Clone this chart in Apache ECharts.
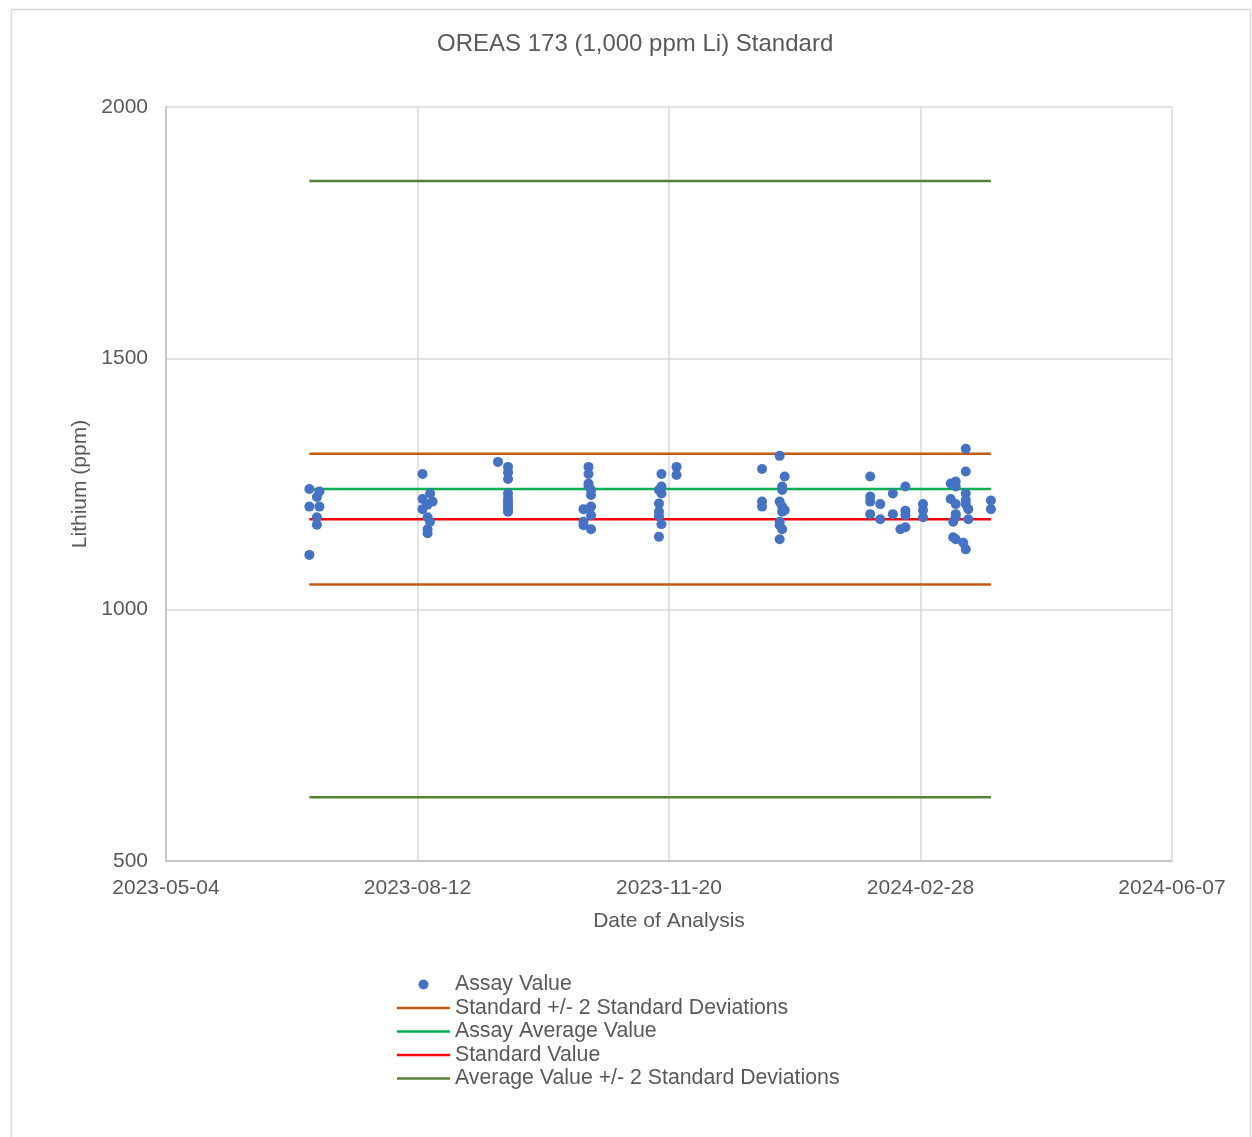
<!DOCTYPE html>
<html>
<head>
<meta charset="utf-8">
<title>OREAS 173 (1,000 ppm Li) Standard</title>
<script src="https://cdn.jsdelivr.net/npm/echarts@6/dist/echarts.min.js"></script>
<style>
html, body { margin: 0; padding: 0; background: #fff; }
#oreasChart { width: 1252px; height: 1137px; }
</style>
</head>
<body>
<div id="oreasChart"></div>
<script>
// assay results (date of analysis, Li ppm)
var assayDates = [
    '2023-06-30','2023-06-30','2023-06-30','2023-07-04','2023-07-04','2023-07-03','2023-07-03','2023-07-03',
    '2023-08-14','2023-08-14','2023-08-14','2023-08-16','2023-08-16','2023-08-16','2023-08-16','2023-08-17','2023-08-17','2023-08-18',
    '2023-09-13','2023-09-17','2023-09-17','2023-09-17','2023-09-17','2023-09-17','2023-09-17','2023-09-17','2023-09-17','2023-09-17',
    '2023-10-19','2023-10-19','2023-10-19','2023-10-19','2023-10-20','2023-10-20','2023-10-20','2023-10-17','2023-10-20','2023-10-17','2023-10-17','2023-10-20',
    '2023-11-17','2023-11-17','2023-11-16','2023-11-17','2023-11-16','2023-11-16','2023-11-16','2023-11-17','2023-11-16','2023-11-23','2023-11-23',
    '2023-12-27','2023-12-27','2023-12-27','2024-01-03','2024-01-05','2024-01-04','2024-01-04','2024-01-03','2024-01-04','2024-01-05','2024-01-04','2024-01-03','2024-01-03','2024-01-04','2024-01-03',
    '2024-02-08','2024-02-08','2024-02-08','2024-02-08','2024-02-12','2024-02-12','2024-02-17','2024-02-17','2024-02-22','2024-02-22','2024-02-22','2024-02-22','2024-02-20','2024-02-29','2024-02-29','2024-02-29',
    '2024-03-17','2024-03-17','2024-03-11','2024-03-13','2024-03-13','2024-03-17','2024-03-11','2024-03-17','2024-03-13','2024-03-17','2024-03-18','2024-03-13','2024-03-13','2024-03-18','2024-03-12','2024-03-12','2024-03-13','2024-03-16','2024-03-17',
    '2024-03-27','2024-03-27'
];
var assayValues = [
    1240, 1205, 1109, 1235, 1205, 1224, 1184, 1169,
    1270, 1220, 1200, 1209, 1184, 1160, 1152, 1231, 1175, 1215,
    1294, 1284, 1273, 1260, 1231, 1221, 1214, 1208, 1201, 1195,
    1284, 1270, 1251, 1246, 1238, 1228, 1205, 1200, 1188, 1175, 1168, 1160,
    1270, 1245, 1238, 1231, 1211, 1195, 1186, 1170, 1145, 1284, 1268,
    1280, 1215, 1205, 1306, 1265, 1245, 1238, 1215, 1205, 1198, 1195, 1175, 1168, 1160, 1140,
    1265, 1225, 1215, 1190, 1210, 1180, 1231, 1190, 1245, 1197, 1188, 1164, 1160, 1210, 1198, 1184,
    1320, 1275, 1251, 1255, 1245, 1231, 1220, 1218, 1210, 1210, 1200, 1190, 1184, 1180, 1175, 1144, 1140, 1133, 1120,
    1217, 1200
];

// reference lines run from the first to the last analysis
var lineDates = ['2023-06-30', '2024-03-27'];
var standardValue = 1180;
var standardMinus2SD = 1050;
var standardPlus2SD = 1310;
var averageValue = 1240;
var averageMinus2SD = 627;
var averagePlus2SD = 1853;

// x axis: 2023-05-04 .. 2024-06-07, tick every 100 days
var xStartDate = '2023-05-04';
var xSpanDays = 400;
var xStepDays = 100;

var DAY = 86400000;

function dayOf(s) {
    return (Date.parse(s) - Date.parse(xStartDate)) / DAY;
}

function dateOf(d) {
    return new Date(Date.parse(xStartDate) + d * DAY).toISOString().slice(0, 10);
}

function flatLine(value) {
    return [[dayOf(lineDates[0]), value], [dayOf(lineDates[1]), value]];
}

window.onload = function() {
    loadStandardChart();
}

function loadStandardChart() {
    var fontName = 'Liberation Sans, Arial, sans-serif';
    var textGrey = '#595959';
    // plain line for the legend (line series otherwise get a dot in the middle)
    var lineIcon = 'path://M0,0H53V2.5H0Z';

    var assayData = [];
    for (var i = 0; i < assayDates.length; i++) {
        assayData.push([dayOf(assayDates[i]), assayValues[i]]);
    }

    function refLine(name, color, value) {
        return {
            name: name,
            type: 'line',
            symbol: 'none',
            data: flatLine(value),
            lineStyle: { color: color, width: 2.5 },
            itemStyle: { color: color },
            z: 2,
            silent: true
        };
    }

    var option = {
        animation: false,
        textStyle: { fontFamily: fontName },
        title: {
            text: 'OREAS 173 (1,000 ppm Li) Standard',
            left: 437,
            top: 32,
            padding: 0,
            textStyle: { color: textGrey, fontSize: 24, fontWeight: 'normal', fontFamily: fontName }
        },
        graphic: [{
            type: 'rect',
            silent: true,
            shape: { x: 11.5, y: 9.5, width: 1239, height: 1140 },
            style: { fill: 'none', stroke: '#d9d9d9', lineWidth: 1.5 }
        }],
        legend: {
            orient: 'vertical',
            left: 397,
            top: 974,
            padding: 0,
            itemWidth: 53,
            itemHeight: 10,
            itemGap: 2.5,
            textStyle: { color: textGrey, fontSize: 21.3, lineHeight: 21, fontFamily: fontName },
            data: [
                { name: 'Assay Value', icon: 'circle' },
                { name: 'Standard +/- 2 Standard Deviations', icon: lineIcon },
                { name: 'Assay Average Value', icon: lineIcon },
                { name: 'Standard Value', icon: lineIcon },
                { name: 'Average Value +/- 2 Standard Deviations', icon: lineIcon }
            ]
        },
        grid: { left: 166, right: 80, top: 107, bottom: 276 },
        xAxis: {
            type: 'value',
            min: 0,
            max: xSpanDays,
            interval: xStepDays,
            name: 'Date of Analysis',
            nameLocation: 'middle',
            nameGap: 50,
            nameTextStyle: { color: textGrey, fontSize: 21, fontFamily: fontName },
            axisLine: { show: true, lineStyle: { color: '#bfbfbf', width: 1.5 } },
            axisTick: { show: false },
            axisLabel: {
                color: textGrey, fontSize: 21, margin: 17, fontFamily: fontName,
                formatter: function(v) { return dateOf(v); }
            },
            splitLine: { show: true, lineStyle: { color: '#d9d9d9', width: 1.5 } }
        },
        yAxis: {
            type: 'value',
            min: 500,
            max: 2000,
            interval: 500,
            name: 'Lithium (ppm)',
            nameLocation: 'middle',
            nameGap: 62,
            nameTextStyle: { color: textGrey, fontSize: 21, fontFamily: fontName },
            axisLine: { show: true, lineStyle: { color: '#bfbfbf', width: 1.5 } },
            axisTick: { show: false },
            axisLabel: {
                color: textGrey, fontSize: 21, margin: 18, fontFamily: fontName,
                formatter: function(v) { return String(v); }
            },
            splitLine: { show: true, lineStyle: { color: '#d9d9d9', width: 1.5 } }
        },
        series: [
            {
                name: 'Assay Value',
                type: 'scatter',
                symbol: 'circle',
                symbolSize: 10,
                data: assayData,
                itemStyle: { color: '#4472c4', opacity: 1 },
                z: 5
            },
            refLine('Standard +/- 2 Standard Deviations', '#c55a11', standardPlus2SD),
            refLine('Standard +/- 2 Standard Deviations', '#c55a11', standardMinus2SD),
            refLine('Assay Average Value', '#00b050', averageValue),
            refLine('Standard Value', '#ff0000', standardValue),
            refLine('Average Value +/- 2 Standard Deviations', '#548235', averagePlus2SD),
            refLine('Average Value +/- 2 Standard Deviations', '#548235', averageMinus2SD)
        ]
    };

    var standardChart = echarts.init(document.getElementById('oreasChart'));
    standardChart.setOption(option);
}
</script>
</body>
</html>
